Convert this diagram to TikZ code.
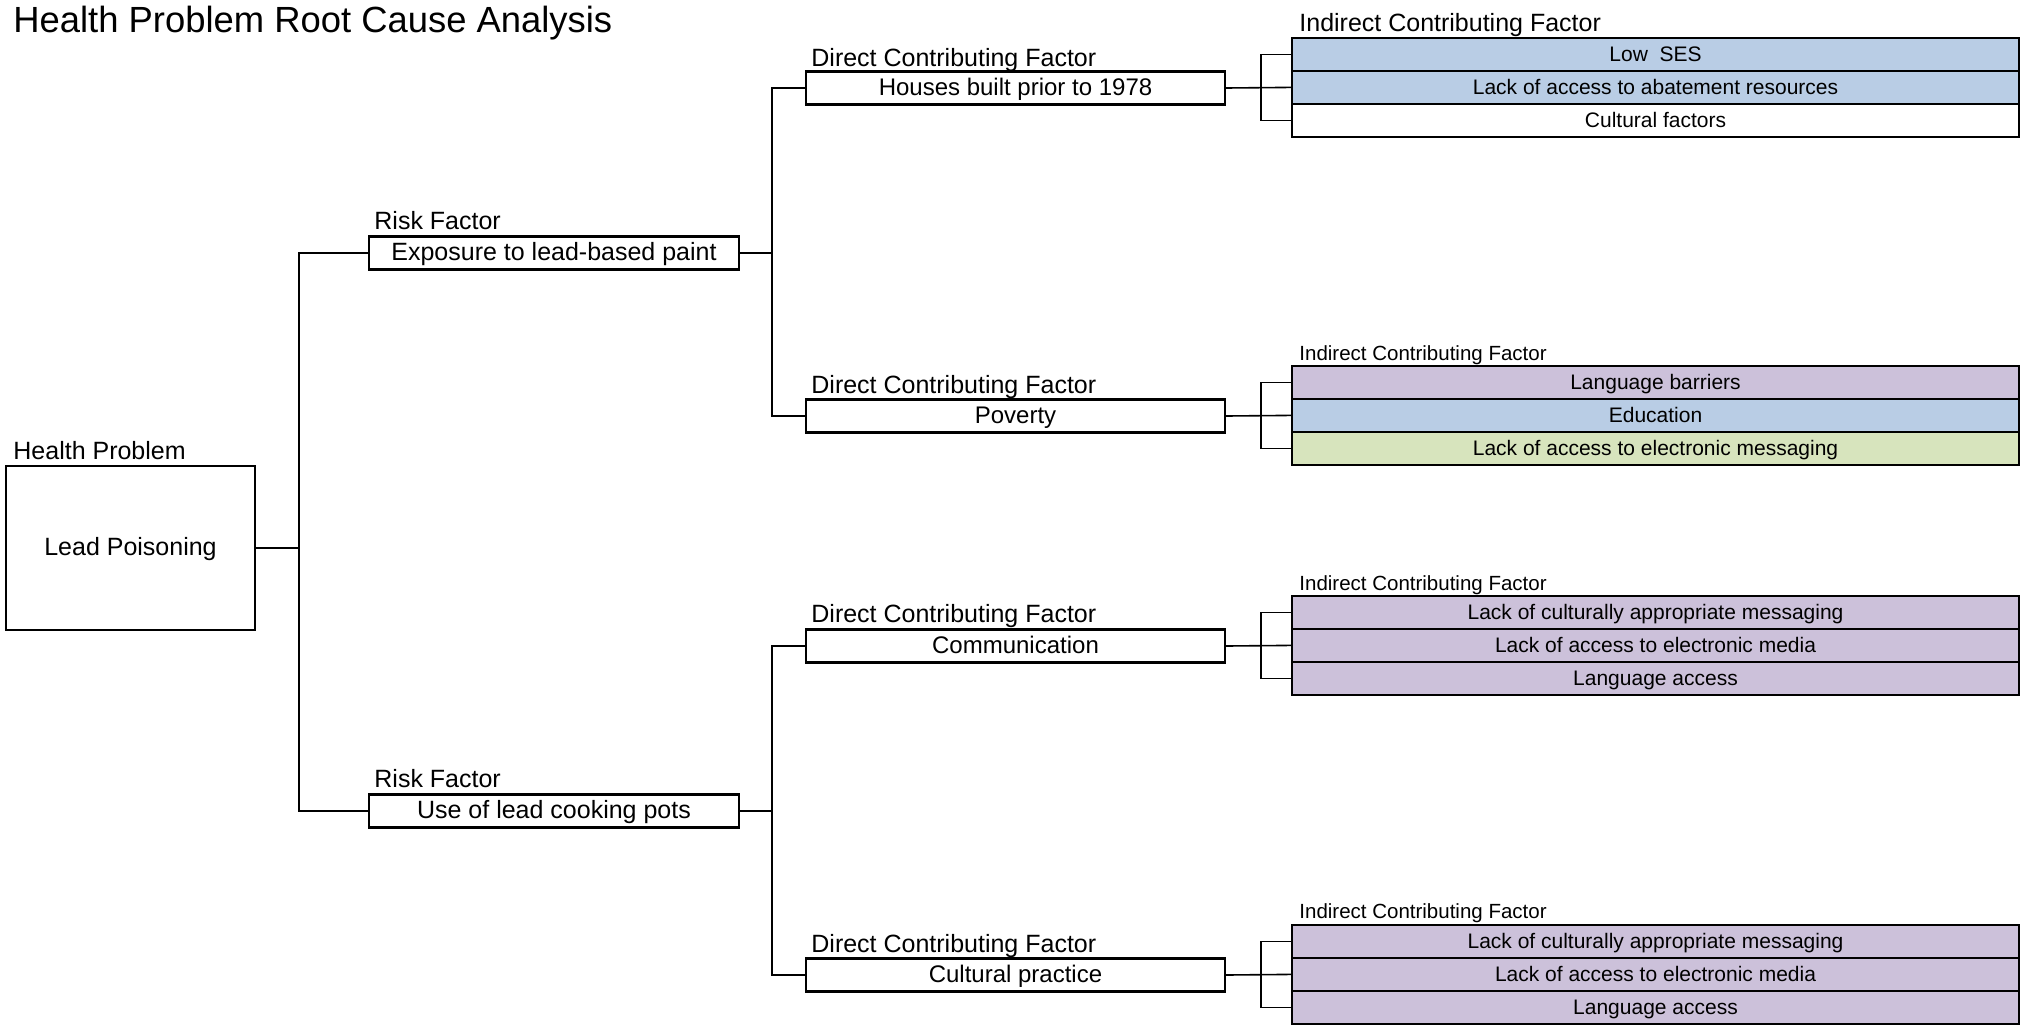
\documentclass[tikz,border=0pt]{standalone}
\usepackage{fontspec}
\setmainfont{Liberation Sans}
\definecolor{icblue}{HTML}{B9CDE5}
\definecolor{icpurple}{HTML}{CCC1DA}
\definecolor{icgreen}{HTML}{D7E4BD}
\begin{document}
\begin{tikzpicture}[x=0.5pt,y=-0.5pt,
  box/.style={draw=black, line width=1.2pt, inner sep=0pt, text height=0.72em, text depth=0pt, font=\fontsize{12.5}{15}\selectfont},
  hpbox/.style={box, minimum width=124.5pt, minimum height=82pt},
  rfbox/.style={box, minimum width=185pt, minimum height=16.5pt},
  dcfbox/.style={box, minimum width=209.5pt, minimum height=16.5pt, font=\fontsize{12}{14}\selectfont},
  icrow/.style={box, minimum width=363.5pt, minimum height=16.5pt, font=\fontsize{10.5}{12}\selectfont, yshift=0.3pt},
  lbl/.style={anchor=base west, inner sep=0pt, font=\fontsize{12.5}{15}\selectfont},
  lbls/.style={anchor=base west, inner sep=0pt, font=\fontsize{10.25}{12}\selectfont},
  conn/.style={line width=0.8pt}]
\useasboundingbox[fill=white] (0,0) rectangle (2028,1029);

% title
\node[anchor=base west, inner sep=0pt, font=\fontsize{18.2}{21}\selectfont] (title) at (13,32) {Health Problem Root Cause Analysis};

% health problem
\node[lbl] (hplbl) at (13,459) {Health Problem};
\node[hpbox] (hp) at (130.5,548) {Lead Poisoning};

% risk factors
\node[lbl] (rf1lbl) at (374,229) {Risk Factor};
\node[rfbox] (rf1) at (554,253) {Exposure to lead-based paint};
\node[lbl] (rf2lbl) at (374,787) {Risk Factor};
\node[rfbox] (rf2) at (554,811) {Use of lead cooking pots};

% direct contributing factors
\node[lbl] (d1lbl) at (811,66) {Direct Contributing Factor};
\node[dcfbox] (dcf1) at (1015.5,88) {Houses built prior to 1978};
\node[lbl] (d2lbl) at (811,393) {Direct Contributing Factor};
\node[dcfbox] (dcf2) at (1015.5,416) {Poverty};
\node[lbl] (d3lbl) at (811,622) {Direct Contributing Factor};
\node[dcfbox] (dcf3) at (1015.5,646) {Communication};
\node[lbl] (d4lbl) at (811,952) {Direct Contributing Factor};
\node[dcfbox] (dcf4) at (1015.5,975) {Cultural practice};

% indirect contributing factors
\node[lbl] (i1lbl) at (1299,31) {Indirect Contributing Factor};
\node[icrow, fill=icblue] (ic1a) at (1655.5,55) {Low~ SES};
\node[icrow, fill=icblue] (ic1b) at (1655.5,88) {Lack of access to abatement resources};
\node[icrow, fill=white] (ic1c) at (1655.5,121) {Cultural factors};

\node[lbls] (i2lbl) at (1299,360) {Indirect Contributing Factor};
\node[icrow, fill=icpurple] (ic2a) at (1655.5,383) {Language barriers};
\node[icrow, fill=icblue] (ic2b) at (1655.5,416) {Education};
\node[icrow, fill=icgreen] (ic2c) at (1655.5,449) {Lack of access to electronic messaging};

\node[lbls] (i3lbl) at (1299,590) {Indirect Contributing Factor};
\node[icrow, fill=icpurple] (ic3a) at (1655.5,613) {Lack of culturally appropriate messaging};
\node[icrow, fill=icpurple] (ic3b) at (1655.5,646) {Lack of access to electronic media};
\node[icrow, fill=icpurple] (ic3c) at (1655.5,679) {Language access};

\node[lbls] (i4lbl) at (1299,918) {Indirect Contributing Factor};
\node[icrow, fill=icpurple] (ic4a) at (1655.5,942) {Lack of culturally appropriate messaging};
\node[icrow, fill=icpurple] (ic4b) at (1655.5,975) {Lack of access to electronic media};
\node[icrow, fill=icpurple] (ic4c) at (1655.5,1008) {Language access};

% junctions
\coordinate (j1) at (299,548);
\coordinate (j2) at (772,253);
\coordinate (j3) at (772,811);
\coordinate (k1) at (1261,88);
\coordinate (k2) at (1261,416);
\coordinate (k3) at (1261,646);
\coordinate (k4) at (1261,975);

% connectors
\draw[conn] (hp.east) -- (j1);
\draw[conn] (rf1.west) -| (j1) |- (rf2.west);
\draw[conn] (rf1.east) -- (j2);
\draw[conn] (dcf1.west) -| (j2) |- (dcf2.west);
\draw[conn] (rf2.east) -- (j3);
\draw[conn] (dcf3.west) -| (j3) |- (dcf4.west);

\draw[conn] (dcf1.east) -- (ic1b.west);
\draw[conn] (ic1a.west) -| (k1) |- (ic1c.west);
\draw[conn] (dcf2.east) -- (ic2b.west);
\draw[conn] (ic2a.west) -| (k2) |- (ic2c.west);
\draw[conn] (dcf3.east) -- (ic3b.west);
\draw[conn] (ic3a.west) -| (k3) |- (ic3c.west);
\draw[conn] (dcf4.east) -- (ic4b.west);
\draw[conn] (ic4a.west) -| (k4) |- (ic4c.west);
\end{tikzpicture}
\end{document}
